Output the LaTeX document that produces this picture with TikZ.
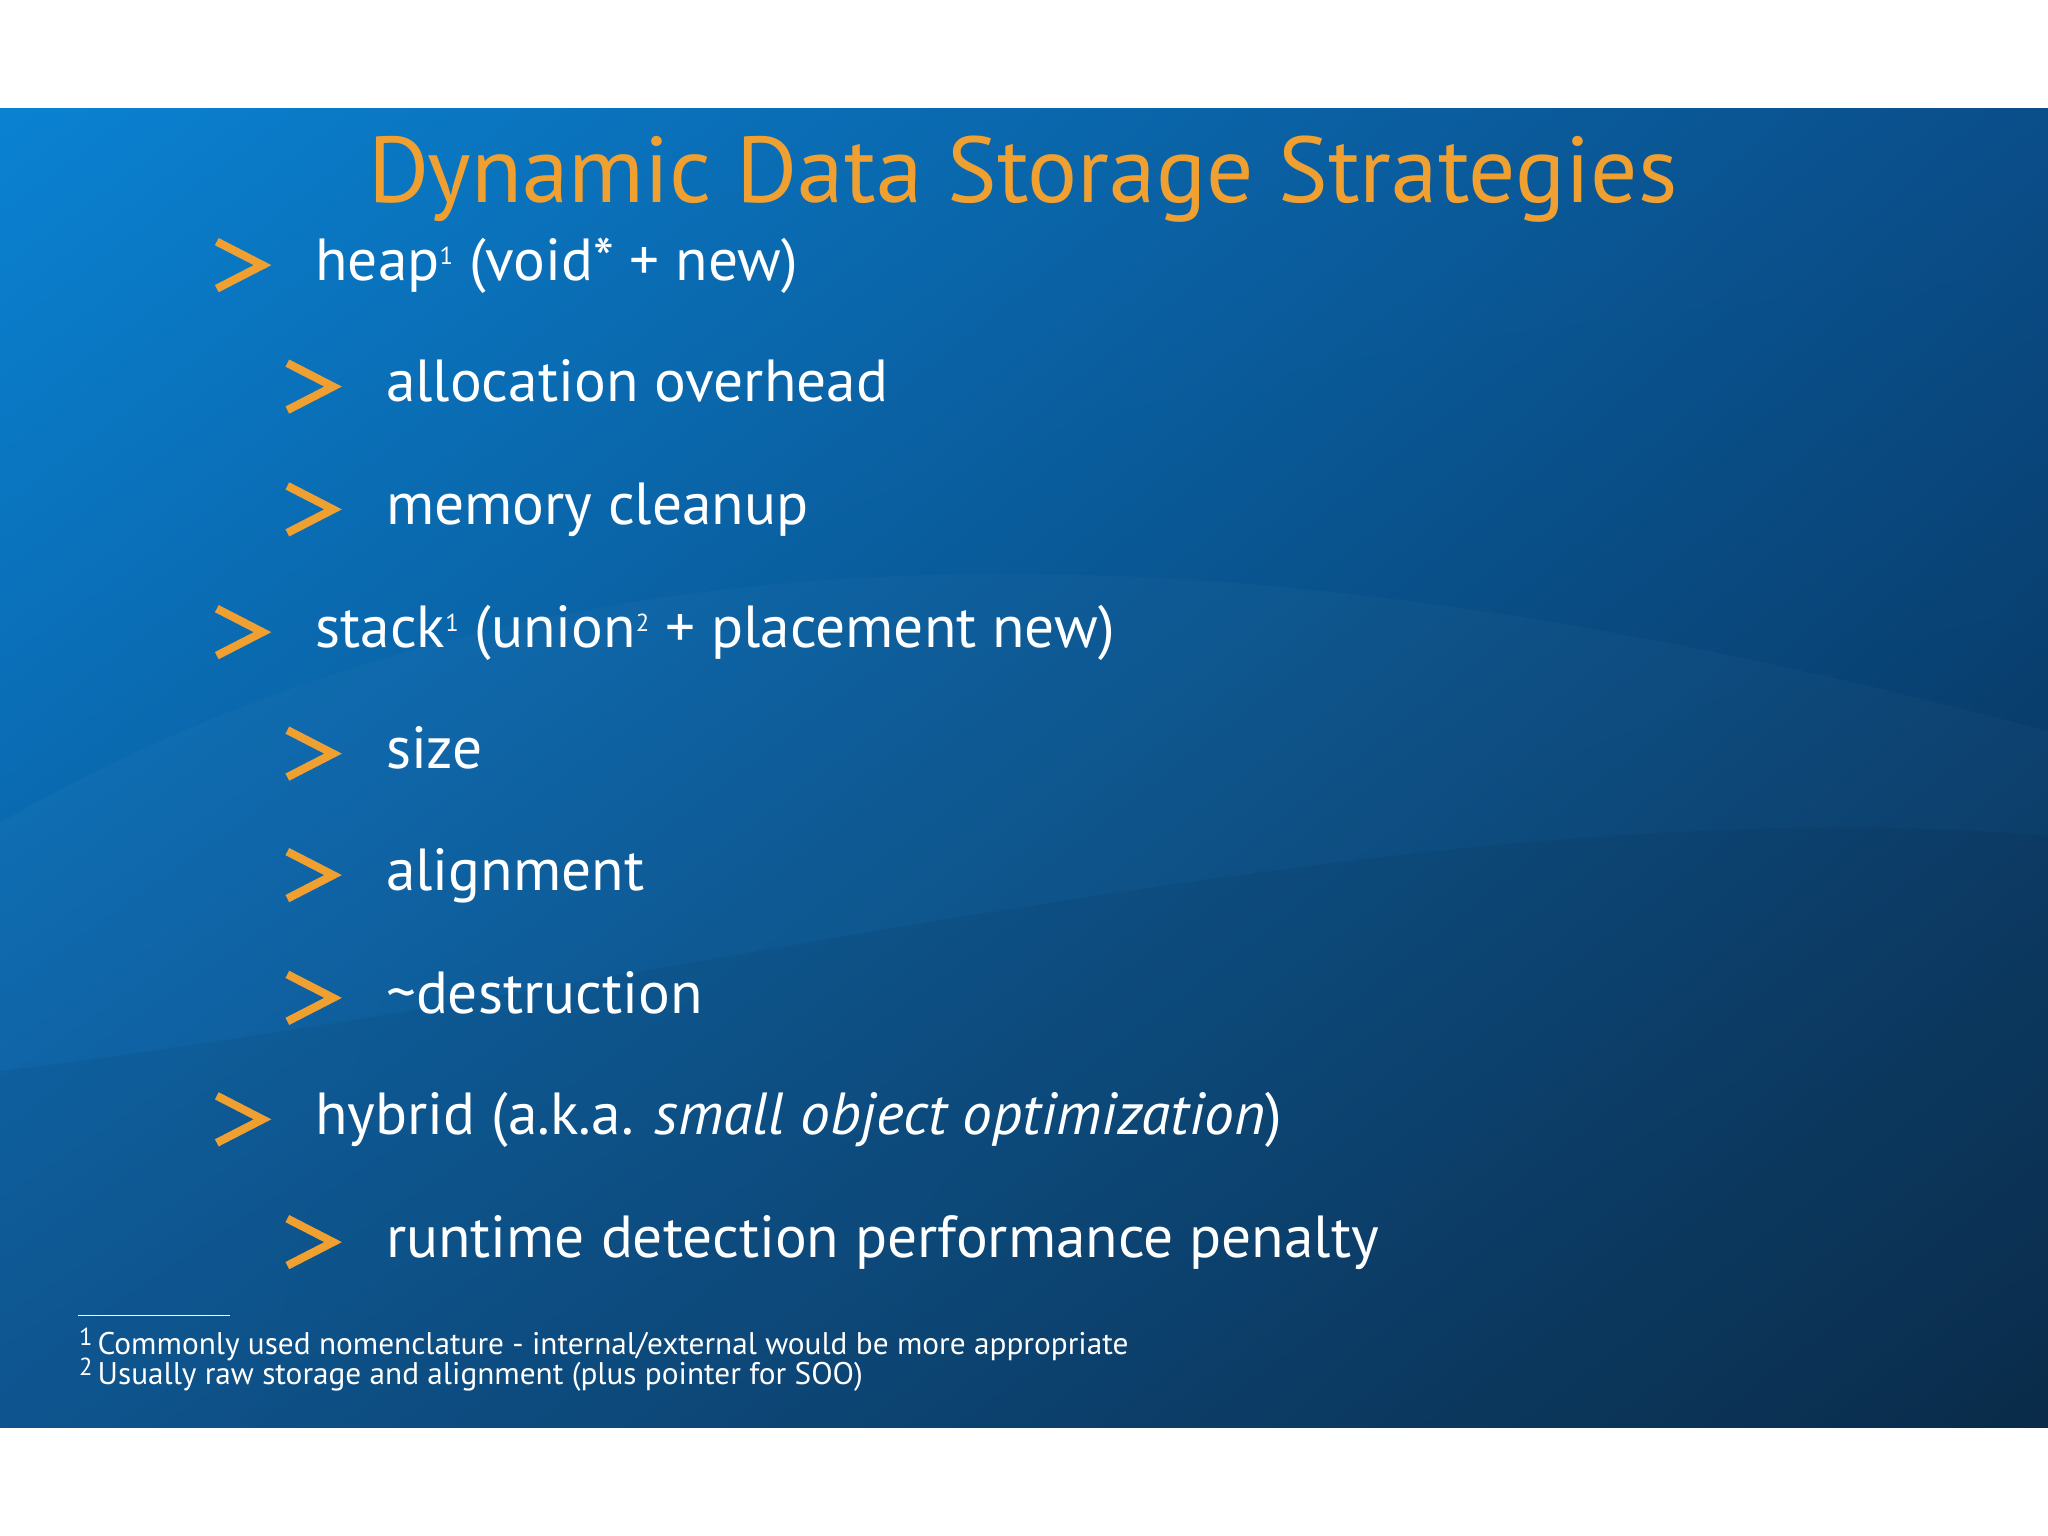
\documentclass[tikz,border=0pt]{standalone}
\usepackage{fontspec}
\usetikzlibrary{shadings}
\setmainfont{PT Sans}
\newcommand{\mysup}[1]{\raisebox{0.55ex}{\scriptsize #1}}
\begin{document}
\begin{tikzpicture}[x=0.013061cm,y=-0.013061cm,
  b1/.style={anchor=mid west,text=white,font=\fontsize{16.9}{20}\selectfont,inner sep=0pt},
  fn/.style={anchor=mid west,text=white,font=\fontsize{8.9}{10}\selectfont,inner sep=0pt},
  chev/.style={draw=orange1,line width=2.3pt,line cap=butt,line join=miter}]
\definecolor{orange1}{HTML}{F0A030}
\definecolor{blueA}{HTML}{0A82D2}
\definecolor{blueB}{HTML}{0A4E8A}
\definecolor{blueC}{HTML}{062A4A}
\useasboundingbox (0,0) rectangle (1568,1176);
\fill[white] (0,0) rectangle (1568,1176);
\shade[upper left=blueA,upper right=blueB,lower left=blueB!85!blueA,lower right=blueC] (0,83) rectangle (1568,1093);
\fill[white,opacity=0.025] (0,630) .. controls (400,400) and (900,380) .. (1568,560) -- (1568,1093) -- (0,1093) -- cycle;
\fill[black,opacity=0.05] (0,820) .. controls (500,760) and (1100,600) .. (1568,640) -- (1568,1093) -- (0,1093) -- cycle;
\node[text=orange1,font=\fontsize{26.6}{32}\selectfont,inner sep=0pt] (title) at (783,137) {Dynamic Data Storage Strategies};
\foreach \y/\lvl/\t [count=\i] in {
 204/1/{heap\mysup{1} (void* + new)},
 297/2/{allocation overhead},
 391/2/{memory cleanup},
 485/1/{stack\mysup{1} (union\mysup{2} + placement new)},
 578/2/{size},
 671/2/{alignment},
 765/2/{\textasciitilde destruction},
 858/1/{hybrid (a.k.a. \textit{small object optimization})},
 952/2/{runtime detection performance penalty}}{
  \pgfmathsetmacro{\xo}{\lvl==1 ? 0 : 54}
  \draw[chev] (166+\xo,\y-19) -- (201+\xo,\y-1) -- (166+\xo,\y+17);
  \node[b1] (t\i) at (241+\xo,\y+4) {\t};
}
\draw[white,line width=0.4pt] (60,1007) -- (176,1007);
\node[fn] (f1) at (60,1030) {\mysup{1}\,Commonly used nomenclature - internal/external would be more appropriate};
\node[fn] (f2) at (60,1053) {\mysup{2}\,Usually raw storage and alignment (plus pointer for SOO)};
\end{tikzpicture}
\end{document}
